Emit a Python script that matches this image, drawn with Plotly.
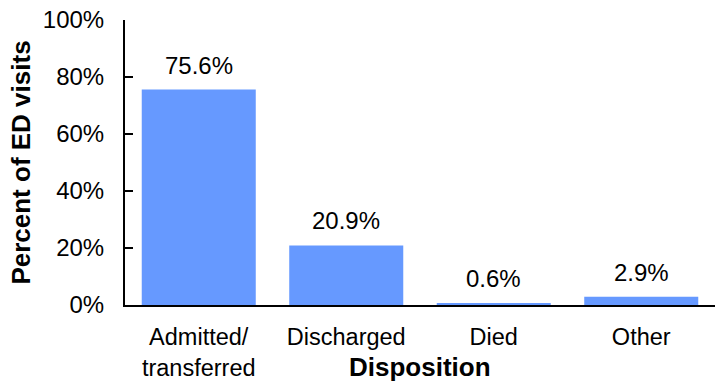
import plotly.graph_objects as go

categories = ["Admitted/<br>transferred", "Discharged", "Died", "Other"]
values = [75.6, 20.9, 0.6, 2.9]
labels = ["75.6%", "20.9%", "0.6%", "2.9%"]
tick_vals = [0, 20, 40, 60, 80, 100]
tick_text = ["0%", "20%", "40%", "60%", "80%", "100%"]

FONT = "Liberation Sans, Arial, sans-serif"

fig = go.Figure()
fig.add_trace(go.Bar(x=categories, y=values, marker=dict(color="#6699FF", line=dict(width=0)),
                     hoverinfo="skip"))

for c, v, t in zip(categories, values, labels):
    fig.add_annotation(x=c, y=v, text=t, showarrow=False, yanchor="bottom", yshift=9,
                       font=dict(family=FONT, size=24, color="black"))

fig.add_annotation(xref="paper", yref="paper", x=0.5, y=0, yanchor="middle", yshift=-62,
                   text="<b>Disposition</b>", showarrow=False,
                   font=dict(family=FONT, size=26, color="black"))

fig.update_layout(
    width=720, height=384,
    margin=dict(l=125, r=5, t=20, b=79),
    paper_bgcolor="white", plot_bgcolor="white",
    bargap=0.227,
    showlegend=False,
    font=dict(family=FONT, size=24, color="black"),
)
fig.update_xaxes(
    range=[-0.5, 3.5], showline=True, linecolor="black", linewidth=2,
    ticks="", showgrid=False, ticklabelstandoff=10, automargin=False,
    tickfont=dict(family=FONT, size=23.5, color="black"),
)
fig.update_yaxes(
    range=[0, 100], tickvals=tick_vals, ticktext=tick_text,
    showline=True, linecolor="black", linewidth=2, ticks="inside", ticklen=8,
    tickwidth=2, tickcolor="black", showgrid=False, zeroline=False,
    ticklabelstandoff=14, automargin=False,
    tickfont=dict(family=FONT, size=24, color="black"),
    title=dict(text="<b>Percent of ED visits</b>", standoff=5,
               font=dict(family=FONT, size=26, color="black")),
)

fig.write_html("out.html")
